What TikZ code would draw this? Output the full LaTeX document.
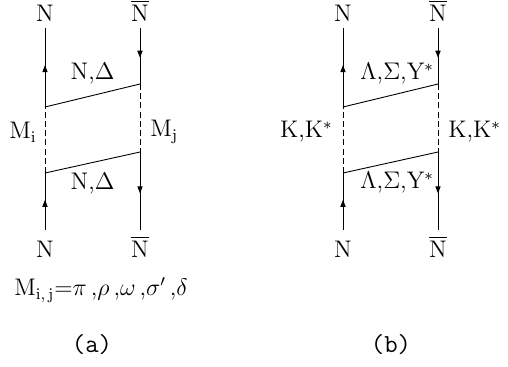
\documentclass[tikz,border=0pt]{standalone}
\usepackage{amsmath,amssymb}
\usetikzlibrary{positioning,arrows.meta,decorations.markings}

\begin{document}
\begin{tikzpicture}[x=0.5pt,y=-0.5pt,
 every node/.style={font=\fontsize{12}{14}\selectfont,inner sep=1pt},
 prop/.style={line width=0.45pt},
 exch/.style={line width=0.45pt,dash pattern=on 3pt off 1.6pt},
 arrmid/.style={postaction={decorate},
  decoration={markings,mark=at position #1 with {\arrow{Triangle[length=3.5pt,width=2.6pt]}}}},
 ext/.style={text height=10pt,text depth=0pt},
 capt/.style={font=\fontsize{13}{15}\ttfamily}]
\useasboundingbox (0,0) rectangle (508,366);
% (a)
\coordinate (aLt) at (45,28);
\coordinate (aLu) at (45,107);
\coordinate (aLd) at (45,173);
\coordinate (aLb) at (45,230);
\coordinate (aRt) at (140,28);
\coordinate (aRu) at (140,84);
\coordinate (aRd) at (140,152);
\coordinate (aRb) at (140,230);
\node[ext,above=2pt of aLt] (aNLt) {N};
\node[ext,above=2pt of aRt] (aNRt) {$\overline{\mathrm{N}}$};
\node[ext,below=2.5pt of aLb] (aNLb) {N};
\node[ext,below=2.5pt of aRb] (aNRb) {$\overline{\mathrm{N}}$};
\draw[prop,arrmid=0.53] (aLb) -- (aLd);
\draw[exch] (aLd) -- (aLu);
\draw[prop,arrmid=0.53] (aLu) -- (aLt);
\draw[prop,arrmid=0.53] (aRt) -- (aRu);
\draw[exch] (aRu) -- (aRd);
\draw[prop,arrmid=0.53] (aRd) -- (aRb);
\draw[prop] (aLu) -- node[above=4.5pt] (aB1) {N,$\Delta$} (aRu);
\draw[prop] (aLd) -- node[below=4pt] (aB2) {N,$\Delta$} (aRd);
\node[left=3pt] (aMi) at (45,132) {M$_{\mathrm{i}}$};
\node[right=4pt] (aMj) at (140,132) {M$_{\mathrm{j}}$};
\node[anchor=west] (aForm) at (12,290)
 {M$_{\mathrm{i,\,j}}$=$\pi\,$,$\rho\,$,$\omega\,$,$\sigma'\,$,$\delta$};
\node[capt] (aCap) at (92,345) {(a)};
% (b)
\coordinate (bLt) at (343,28);
\coordinate (bLu) at (343,107);
\coordinate (bLd) at (343,173);
\coordinate (bLb) at (343,230);
\coordinate (bRt) at (438,28);
\coordinate (bRu) at (438,84);
\coordinate (bRd) at (438,152);
\coordinate (bRb) at (438,230);
\node[ext,above=2pt of bLt] (bNLt) {N};
\node[ext,above=2pt of bRt] (bNRt) {$\overline{\mathrm{N}}$};
\node[ext,below=2.5pt of bLb] (bNLb) {N};
\node[ext,below=2.5pt of bRb] (bNRb) {$\overline{\mathrm{N}}$};
\draw[prop,arrmid=0.53] (bLb) -- (bLd);
\draw[exch] (bLd) -- (bLu);
\draw[prop,arrmid=0.53] (bLu) -- (bLt);
\draw[prop,arrmid=0.53] (bRt) -- (bRu);
\draw[exch] (bRu) -- (bRd);
\draw[prop,arrmid=0.53] (bRd) -- (bRb);
\draw[prop] (bLu) -- node[above=3.5pt,pos=0.57] (bB1) {$\Lambda$,$\Sigma$,Y$^*$} (bRu);
\draw[prop] (bLd) -- node[below=4.5pt,pos=0.57] (bB2) {$\Lambda$,$\Sigma$,Y$^*$} (bRd);
\node[left=4pt] (bKl) at (343,132) {K,K$^*$};
\node[right=4pt] (bKr) at (438,132) {K,K$^*$};
\node[capt] (bCap) at (391,345) {(b)};
\end{tikzpicture}
\end{document}
